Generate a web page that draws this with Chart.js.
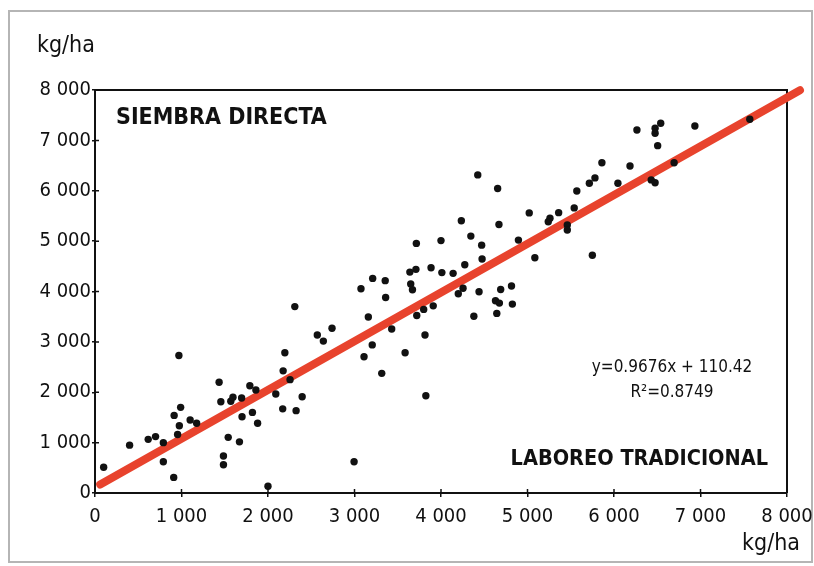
<!DOCTYPE html>
<html>
<head>
<meta charset="utf-8">
<script src="https://cdn.jsdelivr.net/npm/chart.js@4.4.1/dist/chart.umd.min.js"></script>
<style>
  html, body { margin: 0; padding: 0; background: #fff; }
  #wrap { width: 814px; height: 566px; }
</style>
</head>
<body>
<div id="wrap"><canvas id="chart" width="814" height="566"></canvas></div>
<script>
// Rendimiento laboreo tradicional (x) vs siembra directa (y), kg/ha
const xValues = [100, 400, 615, 700, 790, 790, 910, 970, 915, 990, 975, 955, 1100, 1175,
  1435, 1455, 1595, 1570, 1695, 1540, 1670, 1485, 1485, 1700, 1820, 1790, 1860, 1880,
  2000, 2090, 2170, 2175, 2195, 2255, 2310, 2325, 2395, 2570, 2640, 2740, 2995, 3075,
  3210, 3355, 3360, 3160, 3430, 3205, 3110, 3585, 3315, 3825, 3815, 3720, 3800, 3910,
  3640, 3710, 3650, 3670, 3715, 3885, 4000, 4010, 4140, 4235, 4345, 4470, 4275, 4475,
  4255, 4200, 4440, 4380, 4425, 4655, 4670, 4690, 4815, 4630, 4675, 4825, 4645, 4895,
  5020, 5085, 5260, 5240, 5360, 5460, 5460, 5540, 5570, 5715, 5780, 5860, 5750, 6045,
  6185, 6265, 6475, 6475, 6540, 6505, 6430, 6475, 6695, 6935, 7570];
const yValues = [510, 950, 1065, 1120, 1000, 620, 310, 2730, 1540, 1700, 1335, 1160, 1450, 1385,
  2200, 1810, 1900, 1820, 1885, 1105, 1015, 735, 560, 1515, 1600, 2130, 2045, 1385,
  135, 1965, 1670, 2425, 2785, 2250, 3700, 1635, 1910, 3135, 3015, 3270, 620, 4055,
  4260, 4215, 3880, 3495, 3255, 2940, 2705, 2785, 2375, 1930, 3135, 3525, 3645, 3715,
  4385, 4440, 4150, 4035, 4955, 4470, 5010, 4375, 4360, 5405, 5100, 4920, 4530, 4645,
  4065, 3955, 3995, 3510, 6315, 6045, 5330, 4040, 4110, 3815, 3770, 3750, 3565, 5020,
  5560, 4670, 5455, 5385, 5565, 5320, 5220, 5660, 5995, 6150, 6255, 6555, 4720, 6150,
  6490, 7205, 7240, 7140, 7340, 6895, 6215, 6160, 6555, 7285, 7420];

// Recta de regresión: y = 0.9676x + 110.42
const slope = 0.9676;
const intercept = 110.42;
const lineX = [60, 8150];

const axisTicks = [0, 1000, 2000, 3000, 4000, 5000, 6000, 7000, 8000];

const points = xValues.map((x, i) => ({ x: x, y: yValues[i] }));
const trend = lineX.map(x => ({ x: x, y: slope * x + intercept }));

const FONT = '"DejaVu Sans Condensed", "Liberation Sans", sans-serif';

function fmt(v) {
    return String(v).replace(/\B(?=(\d{3})+(?!\d))/g, ' ');
}

// Marco, líneas superior/derecha, marcas interiores y textos
const decor = {
    id: 'decor',
    beforeDraw(chart) {
        const c = chart.ctx;
        c.save();
        c.fillStyle = '#fff';
        c.fillRect(0, 0, chart.width, chart.height);
        c.strokeStyle = '#b5b5b5';
        c.lineWidth = 2;
        c.strokeRect(9, 11, 803, 551);
        c.restore();
    },
    beforeDatasetsDraw(chart) {
        const c = chart.ctx;
        const a = chart.chartArea;
        const xs = chart.scales.x, ys = chart.scales.y;
        c.save();
        c.strokeStyle = '#111';
        c.lineWidth = 2;
        c.beginPath();
        c.moveTo(a.left, a.top);
        c.lineTo(a.right, a.top);
        c.lineTo(a.right, a.bottom);
        c.stroke();
        c.lineWidth = 1.5;
        c.beginPath();
        axisTicks.forEach(t => {
            const px = xs.getPixelForValue(t);
            c.moveTo(px, a.bottom);
            c.lineTo(px, a.bottom - 4);
            const py = ys.getPixelForValue(t);
            c.moveTo(a.left, py);
            c.lineTo(a.left + 4, py);
        });
        c.stroke();
        c.restore();
    },
    afterDraw(chart) {
        const c = chart.ctx;
        c.save();
        c.fillStyle = '#111';
        c.textBaseline = 'middle';
        c.font = '23px ' + FONT;
        c.textAlign = 'left';
        c.fillText('kg/ha', 37, 46);
        c.textAlign = 'right';
        c.fillText('kg/ha', 800, 544);
        c.font = 'bold 23px ' + FONT;
        c.textAlign = 'left';
        c.fillText('SIEMBRA DIRECTA', 116, 118);
        c.font = 'bold 21.5px ' + FONT;
        c.textAlign = 'right';
        c.fillText('LABOREO TRADICIONAL', 768, 459);
        c.font = '17px ' + FONT;
        c.textAlign = 'center';
        c.fillText('y=0.9676x + 110.42', 672, 368);
        c.fillText('R\u00b2=0.8749', 672, 393);
        c.restore();
    }
};

const ctx = document.getElementById('chart').getContext('2d');
new Chart(ctx, {
    type: 'scatter',
    data: {
        datasets: [
            {
                data: points,
                pointRadius: 3.7,
                pointHoverRadius: 3.7,
                backgroundColor: '#111',
                borderWidth: 0,
                order: 0
            },
            {
                type: 'line',
                data: trend,
                borderColor: '#e8432d',
                borderWidth: 8,
                borderCapStyle: 'round',
                pointRadius: 0,
                fill: false,
                clip: false,
                order: 1
            }
        ]
    },
    plugins: [decor],
    options: {
        responsive: false,
        animation: false,
        events: [],
        layout: { padding: { left: 0, top: 90, right: 27, bottom: 0 } },
        plugins: {
            legend: { display: false },
            tooltip: { enabled: false }
        },
        scales: {
            x: {
                type: 'linear',
                min: 0,
                max: 8000,
                afterFit: s => { s.height = 73; s.paddingLeft = 0; s.paddingRight = 0; },
                afterBuildTicks: s => { s.ticks = axisTicks.map(v => ({ value: v })); },
                border: { color: '#111', width: 2 },
                grid: { drawOnChartArea: false, color: '#111', lineWidth: 1.5, tickLength: 4 },
                ticks: {
                    color: '#111',
                    padding: 8,
                    maxRotation: 0,
                    font: { family: FONT, size: 20 },
                    callback: v => fmt(v)
                }
            },
            y: {
                type: 'linear',
                min: 0,
                max: 8000,
                afterFit: s => { s.width = 95; s.paddingTop = 0; s.paddingBottom = 0; },
                afterBuildTicks: s => { s.ticks = axisTicks.map(v => ({ value: v })); },
                border: { color: '#111', width: 2 },
                grid: { drawOnChartArea: false, color: '#111', lineWidth: 1.5, tickLength: 3 },
                ticks: {
                    color: '#111',
                    padding: 1,
                    font: { family: FONT, size: 20 },
                    callback: v => fmt(v)
                }
            }
        }
    }
});
</script>
</body>
</html>
